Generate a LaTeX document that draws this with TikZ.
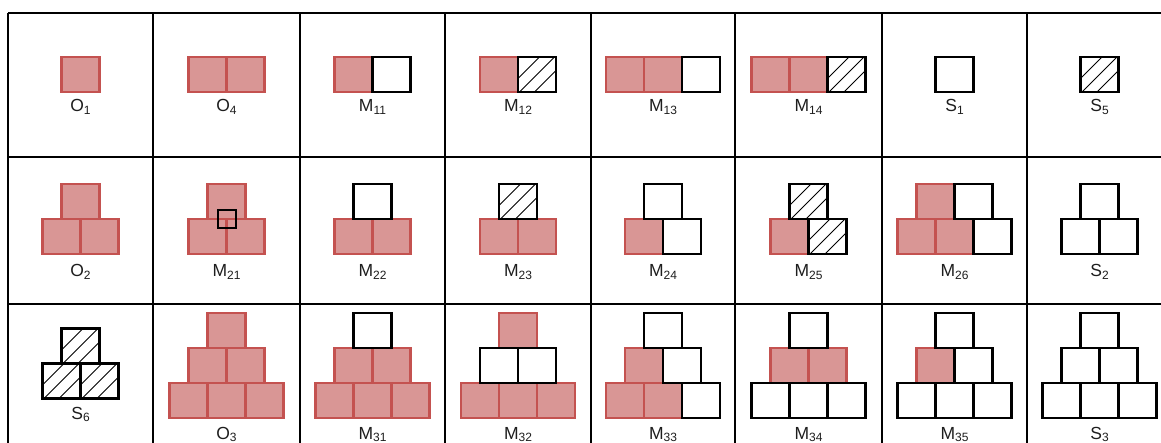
\documentclass[tikz,border=0pt]{standalone}
\usepackage{fontspec}
\setmainfont{Liberation Sans}
\definecolor{redfill}{RGB}{217,150,149}
\definecolor{redline}{RGB}{196,82,80}
\definecolor{txt}{RGB}{30,30,30}
\newcommand\lbl[2]{#1\raisebox{-2.5pt}{\fontsize{12}{13}\selectfont #2}}
\newcommand\sqr[4]{\node[#1] (#2) at (#3,#4) {};}
\tikzset{
  sqbase/.style={minimum width=38, minimum height=35, inner sep=0, outer sep=0},
  redsq/.style={sqbase, draw=redline, fill=redfill, line width=2.3},
  whitesq/.style={sqbase, draw=black, fill=white, line width=2.8},
  hatchsq/.style={whitesq, path picture={
      \foreach \k in {-1,0,1}
        \draw[black, line width=0.9]
          ([shift={(\k*15-30,30)}]path picture bounding box.center) -- ++(60,-60);}},
  smallsq/.style={draw=black, line width=2, minimum width=18, minimum height=18, inner sep=0},
  gridline/.style={draw=black, line width=1.3},
  lab/.style={anchor=base, text=txt, font=\fontsize{17.5}{19}\selectfont, inner sep=0}
}
\begin{document}
\begin{tikzpicture}[x=1pt, y=-1pt]
\useasboundingbox (0,0) rectangle (1161,443);
\clip (0,0) rectangle (1161,443);
\fill[white] (0,0) rectangle (1161,443);
% grid
\foreach \x in {8,153,300,445,591,735,882,1027,1172}
  \draw[gridline] (\x,13) -- (\x,450);
\foreach \y in {13,157,304,450}
  \draw[gridline] (8,\y) -- (1172,\y);

% ---------------- Row 1 ----------------
\sqr{redsq}{o1a}{80.5}{74.5}
\sqr{redsq}{o4a}{207.5}{74.5}
\sqr{redsq}{o4b}{245.5}{74.5}
\sqr{redsq}{m11a}{353.5}{74.5}
\sqr{whitesq}{m11b}{391.5}{74.5}
\sqr{redsq}{m12a}{499}{74.5}
\sqr{hatchsq}{m12b}{537}{74.5}
\sqr{redsq}{m13a}{625}{74.5}
\sqr{redsq}{m13b}{663}{74.5}
\sqr{whitesq}{m13c}{701}{74.5}
\sqr{redsq}{m14a}{770.5}{74.5}
\sqr{redsq}{m14b}{808.5}{74.5}
\sqr{hatchsq}{m14c}{846.5}{74.5}
\sqr{whitesq}{s1a}{954.5}{74.5}
\sqr{hatchsq}{s5a}{1099.5}{74.5}
\node[lab] (lo1) at (80.5,112) {\lbl{O}{1}};
\node[lab] (lo4) at (226.5,112) {\lbl{O}{4}};
\node[lab] (lm11) at (372.5,112) {\lbl{M}{11}};
\node[lab] (lm12) at (518,112) {\lbl{M}{12}};
\node[lab] (lm13) at (663,112) {\lbl{M}{13}};
\node[lab] (lm14) at (808.5,112) {\lbl{M}{14}};
\node[lab] (ls1) at (954.5,112) {\lbl{S}{1}};
\node[lab] (ls5) at (1099.5,112) {\lbl{S}{5}};

% ---------------- Row 2 ----------------
% O2
\sqr{redsq}{o2a}{80.5}{201.5}
\sqr{redsq}{o2b}{61.5}{236.5}
\sqr{redsq}{o2c}{99.5}{236.5}
% M21
\sqr{redsq}{m21a}{226.5}{201.5}
\sqr{redsq}{m21b}{207.5}{236.5}
\sqr{redsq}{m21c}{245.5}{236.5}
\node[smallsq] (m21s) at (226.5,219) {};
% M22
\sqr{redsq}{m22b}{353.5}{236.5}
\sqr{redsq}{m22c}{391.5}{236.5}
\sqr{whitesq}{m22a}{372.5}{201.5}
% M23
\sqr{redsq}{m23b}{499}{236.5}
\sqr{redsq}{m23c}{537}{236.5}
\sqr{hatchsq}{m23a}{518}{201.5}
% M24
\sqr{redsq}{m24b}{644}{236.5}
\sqr{whitesq}{m24c}{682}{236.5}
\sqr{whitesq}{m24a}{663}{201.5}
% M25
\sqr{redsq}{m25b}{789.5}{236.5}
\sqr{hatchsq}{m25c}{827.5}{236.5}
\sqr{hatchsq}{m25a}{808.5}{201.5}
% M26
\sqr{redsq}{m26a}{935.5}{201.5}
\sqr{redsq}{m26c}{916.5}{236.5}
\sqr{redsq}{m26d}{954.5}{236.5}
\sqr{whitesq}{m26b}{973.5}{201.5}
\sqr{whitesq}{m26e}{992.5}{236.5}
% S2
\sqr{whitesq}{s2a}{1099.5}{201.5}
\sqr{whitesq}{s2b}{1080.5}{236.5}
\sqr{whitesq}{s2c}{1118.5}{236.5}
\node[lab] (lo2) at (80.5,277) {\lbl{O}{2}};
\node[lab] (lm21) at (226.5,277) {\lbl{M}{21}};
\node[lab] (lm22) at (372.5,277) {\lbl{M}{22}};
\node[lab] (lm23) at (518,277) {\lbl{M}{23}};
\node[lab] (lm24) at (663,277) {\lbl{M}{24}};
\node[lab] (lm25) at (808.5,277) {\lbl{M}{25}};
\node[lab] (lm26) at (954.5,277) {\lbl{M}{26}};
\node[lab] (ls2) at (1099.5,277) {\lbl{S}{2}};

% ---------------- Row 3 ----------------
% S6
\sqr{hatchsq}{s6a}{80.5}{346}
\sqr{hatchsq}{s6b}{61.5}{381}
\sqr{hatchsq}{s6c}{99.5}{381}
\node[lab] (ls6) at (80.5,419) {\lbl{S}{6}};
% O3
\sqr{redsq}{o3a}{226.5}{330.5}
\sqr{redsq}{o3b}{207.5}{365.5}
\sqr{redsq}{o3c}{245.5}{365.5}
\sqr{redsq}{o3d}{188.5}{400.5}
\sqr{redsq}{o3e}{226.5}{400.5}
\sqr{redsq}{o3f}{264.5}{400.5}
% M31
\sqr{redsq}{m31b}{353.5}{365.5}
\sqr{redsq}{m31c}{391.5}{365.5}
\sqr{redsq}{m31d}{334.5}{400.5}
\sqr{redsq}{m31e}{372.5}{400.5}
\sqr{redsq}{m31f}{410.5}{400.5}
\sqr{whitesq}{m31a}{372.5}{330.5}
% M32
\sqr{redsq}{m32a}{518}{330.5}
\sqr{redsq}{m32d}{480}{400.5}
\sqr{redsq}{m32e}{518}{400.5}
\sqr{redsq}{m32f}{556}{400.5}
\sqr{whitesq}{m32b}{499}{365.5}
\sqr{whitesq}{m32c}{537}{365.5}
% M33
\sqr{redsq}{m33b}{644}{365.5}
\sqr{redsq}{m33d}{625}{400.5}
\sqr{redsq}{m33e}{663}{400.5}
\sqr{whitesq}{m33a}{663}{330.5}
\sqr{whitesq}{m33c}{682}{365.5}
\sqr{whitesq}{m33f}{701}{400.5}
% M34
\sqr{redsq}{m34b}{789.5}{365.5}
\sqr{redsq}{m34c}{827.5}{365.5}
\sqr{whitesq}{m34a}{808.5}{330.5}
\sqr{whitesq}{m34d}{770.5}{400.5}
\sqr{whitesq}{m34e}{808.5}{400.5}
\sqr{whitesq}{m34f}{846.5}{400.5}
% M35
\sqr{redsq}{m35b}{935.5}{365.5}
\sqr{whitesq}{m35a}{954.5}{330.5}
\sqr{whitesq}{m35c}{973.5}{365.5}
\sqr{whitesq}{m35d}{916.5}{400.5}
\sqr{whitesq}{m35e}{954.5}{400.5}
\sqr{whitesq}{m35f}{992.5}{400.5}
% S3
\sqr{whitesq}{s3a}{1099.5}{330.5}
\sqr{whitesq}{s3b}{1080.5}{365.5}
\sqr{whitesq}{s3c}{1118.5}{365.5}
\sqr{whitesq}{s3d}{1061.5}{400.5}
\sqr{whitesq}{s3e}{1099.5}{400.5}
\sqr{whitesq}{s3f}{1137.5}{400.5}
\node[lab] (lo3) at (226.5,439) {\lbl{O}{3}};
\node[lab] (lm31) at (372.5,439) {\lbl{M}{31}};
\node[lab] (lm32) at (518,439) {\lbl{M}{32}};
\node[lab] (lm33) at (663,439) {\lbl{M}{33}};
\node[lab] (lm34) at (808.5,439) {\lbl{M}{34}};
\node[lab] (lm35) at (954.5,439) {\lbl{M}{35}};
\node[lab] (ls3) at (1099.5,439) {\lbl{S}{3}};
\end{tikzpicture}
\end{document}
